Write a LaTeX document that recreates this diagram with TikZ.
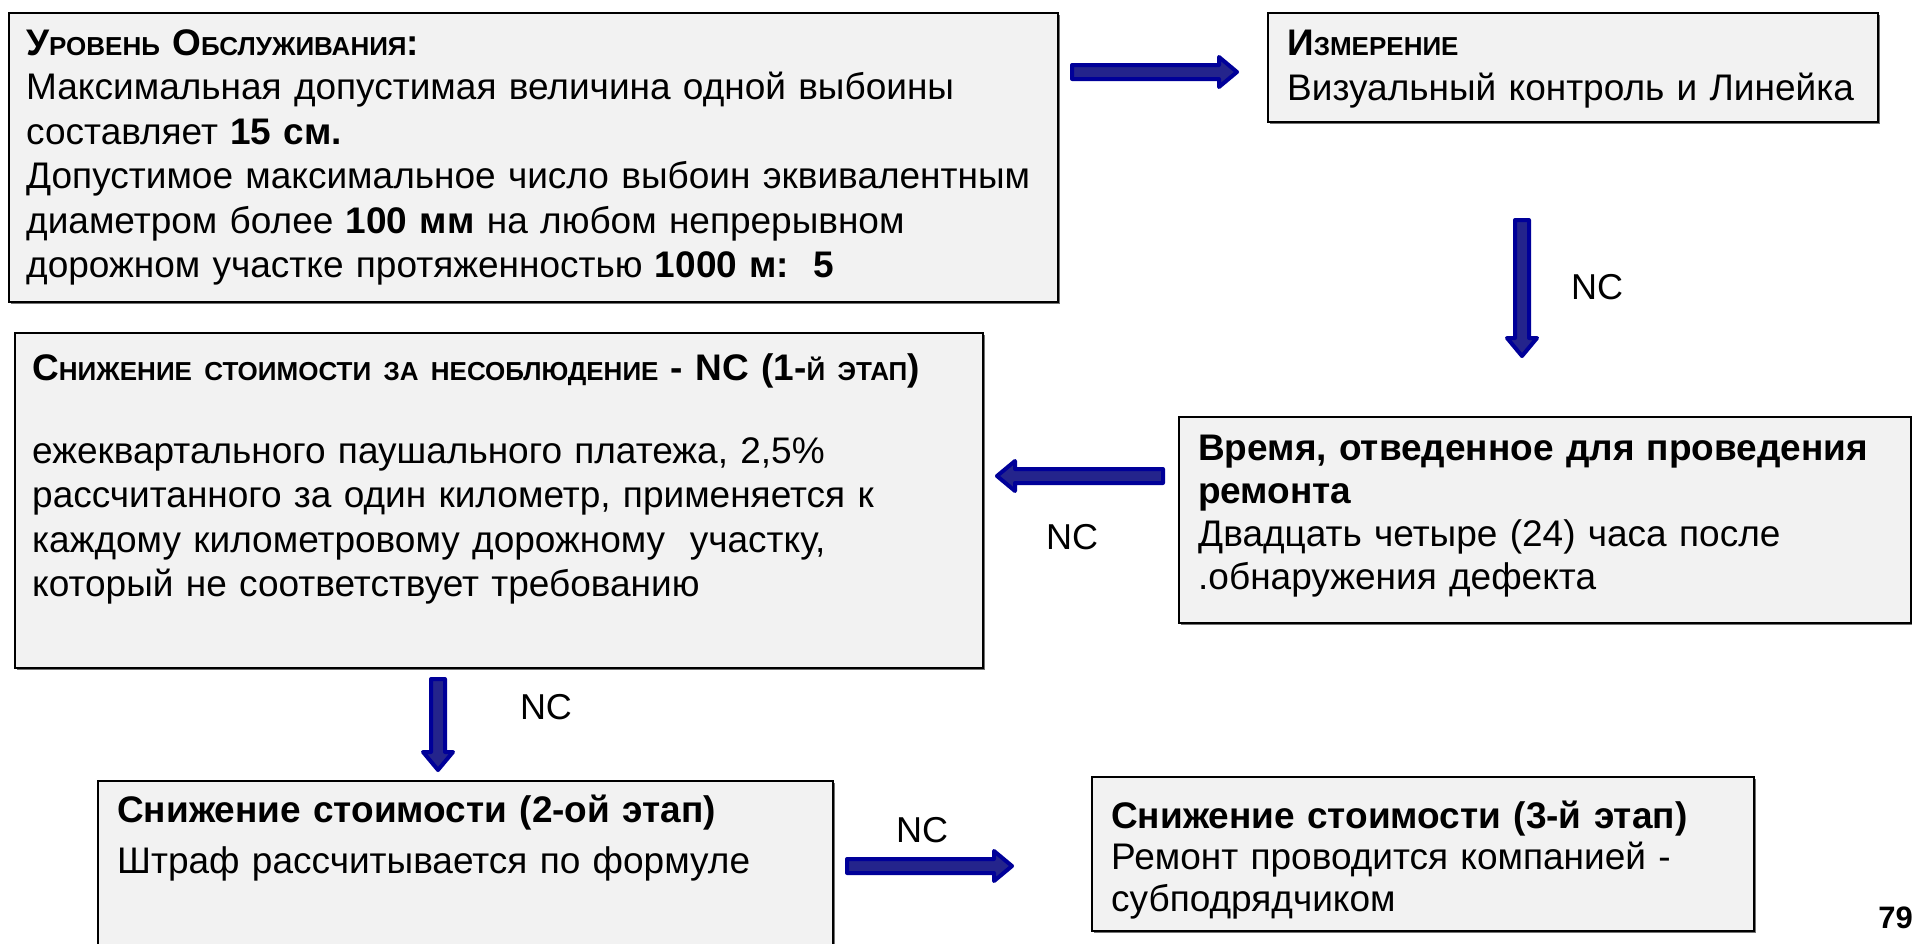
\documentclass[tikz,border=0pt]{standalone}
\usepackage{fontspec}
\setmainfont{Liberation Sans}
\usetikzlibrary{shadows}
\definecolor{boxfill}{RGB}{242,242,242}
\definecolor{arrline}{RGB}{0,0,153}
\definecolor{arrfill}{RGB}{36,36,140}
\newcommand\smc[1]{{\fontsize{26}{26}\selectfont #1}}
\begin{document}
\begin{tikzpicture}[x=1pt,y=-1pt,
  box/.style={draw=black, line width=2pt, fill=boxfill, inner sep=0pt, anchor=north west,
    drop shadow={shadow xshift=1.5pt, shadow yshift=-1.5pt, fill=black!55, opacity=1}},
  txt/.style={inner sep=0pt, anchor=base west, align=left, font=\fontsize{37}{44.5}\selectfont},
  nclab/.style={inner sep=0pt, font=\fontsize{36}{36}\selectfont},
  barrow/.pic={\path[draw=arrline, fill=arrfill, line width=4pt, line join=round]
    (0,-7) -- ({#1-18},-7) -- ({#1-18},-15) -- (#1,0) -- ({#1-18},15) -- ({#1-18},7) -- (0,7) -- cycle;}]
\clip (0,0) rectangle (1912,943);
\fill[white] (0,0) rectangle (1912,943);

% boxes
\node[box, minimum width=1049pt, minimum height=289pt] (b1) at (8,12) {};
\node[box, minimum width=610pt, minimum height=109pt] (b2) at (1267,12) {};
\node[box, minimum width=732pt, minimum height=206pt] (b3) at (1178,416) {};
\node[box, minimum width=968pt, minimum height=335pt] (b4) at (14,332) {};
\node[box, minimum width=735pt, minimum height=190pt] (b5) at (97,780) {};
\node[box, minimum width=662pt, minimum height=154pt] (b6) at (1091,776) {};

% texts
\node[txt, text width=1040pt] (t1) at (26,55) {\textbf{У\smc{РОВЕНЬ} О\smc{БСЛУЖИВАНИЯ}:}\\
Максимальная допустимая величина одной выбоины\\
составляет \textbf{15 см.}\\
Допустимое максимальное число выбоин эквивалентным\\
диаметром более \textbf{100 мм} на любом непрерывном\\
дорожном участке протяженностью \textbf{1000 м:~~5}};

\node[txt, text width=600pt, font=\fontsize{37}{45}\selectfont] (t2) at (1287,55) {\textbf{И\smc{ЗМЕРЕНИЕ}}\\
Визуальный контроль и Линейка};

\node[txt, text width=720pt, font=\fontsize{37}{43.3}\selectfont] (t3) at (1198,460) {\textbf{Время, отведенное для проведения}\\
\textbf{ремонта}\\
Двадцать четыре (24) часа после\\
.обнаружения дефекта};

\node[txt, text width=960pt] (t4) at (32,380) {\textbf{С\smc{НИЖЕНИЕ СТОИМОСТИ ЗА НЕСОБЛЮДЕНИЕ} - NC (1-\smc{Й ЭТАП})}\\[38.5pt]
ежеквартального паушального платежа, 2,5\%\\
рассчитанного за один километр, применяется к\\
каждому километровому дорожному~~участку,\\
который не соответствует требованию};

\node[txt, text width=720pt, font=\fontsize{37}{51}\selectfont] (t5) at (117,822) {\textbf{Снижение стоимости (2-ой этап)}\\
Штраф рассчитывается по формуле};

\node[txt, text width=650pt, font=\fontsize{37}{41.5}\selectfont] (t6) at (1111,828) {\textbf{Снижение стоимости (3-й этап)}\\
Ремонт проводится компанией -\\
субподрядчиком};

\node[inner sep=0pt, anchor=base east, font=\bfseries\fontsize{31}{31}\selectfont] (pg) at (1913,928) {79};

% connectors
\coordinate (a1s) at (1072,72);
\coordinate (a2s) at (1522,220);
\coordinate (a3s) at (1163,476);
\coordinate (a4s) at (438,679);
\coordinate (a5s) at (847,866);
\pic at (a1s) {barrow=165};
\pic[rotate=-90] at (a2s) {barrow=136};
\pic[rotate=180] at (a3s) {barrow=166};
\pic[rotate=-90] at (a4s) {barrow=91};
\pic at (a5s) {barrow=165};

\node[nclab] (nc1) at (1597,287) {NC};
\node[nclab] (nc2) at (1072,537) {NC};
\node[nclab] (nc3) at (546,707) {NC};
\node[nclab] (nc4) at (922,830) {NC};
\end{tikzpicture}
\end{document}
